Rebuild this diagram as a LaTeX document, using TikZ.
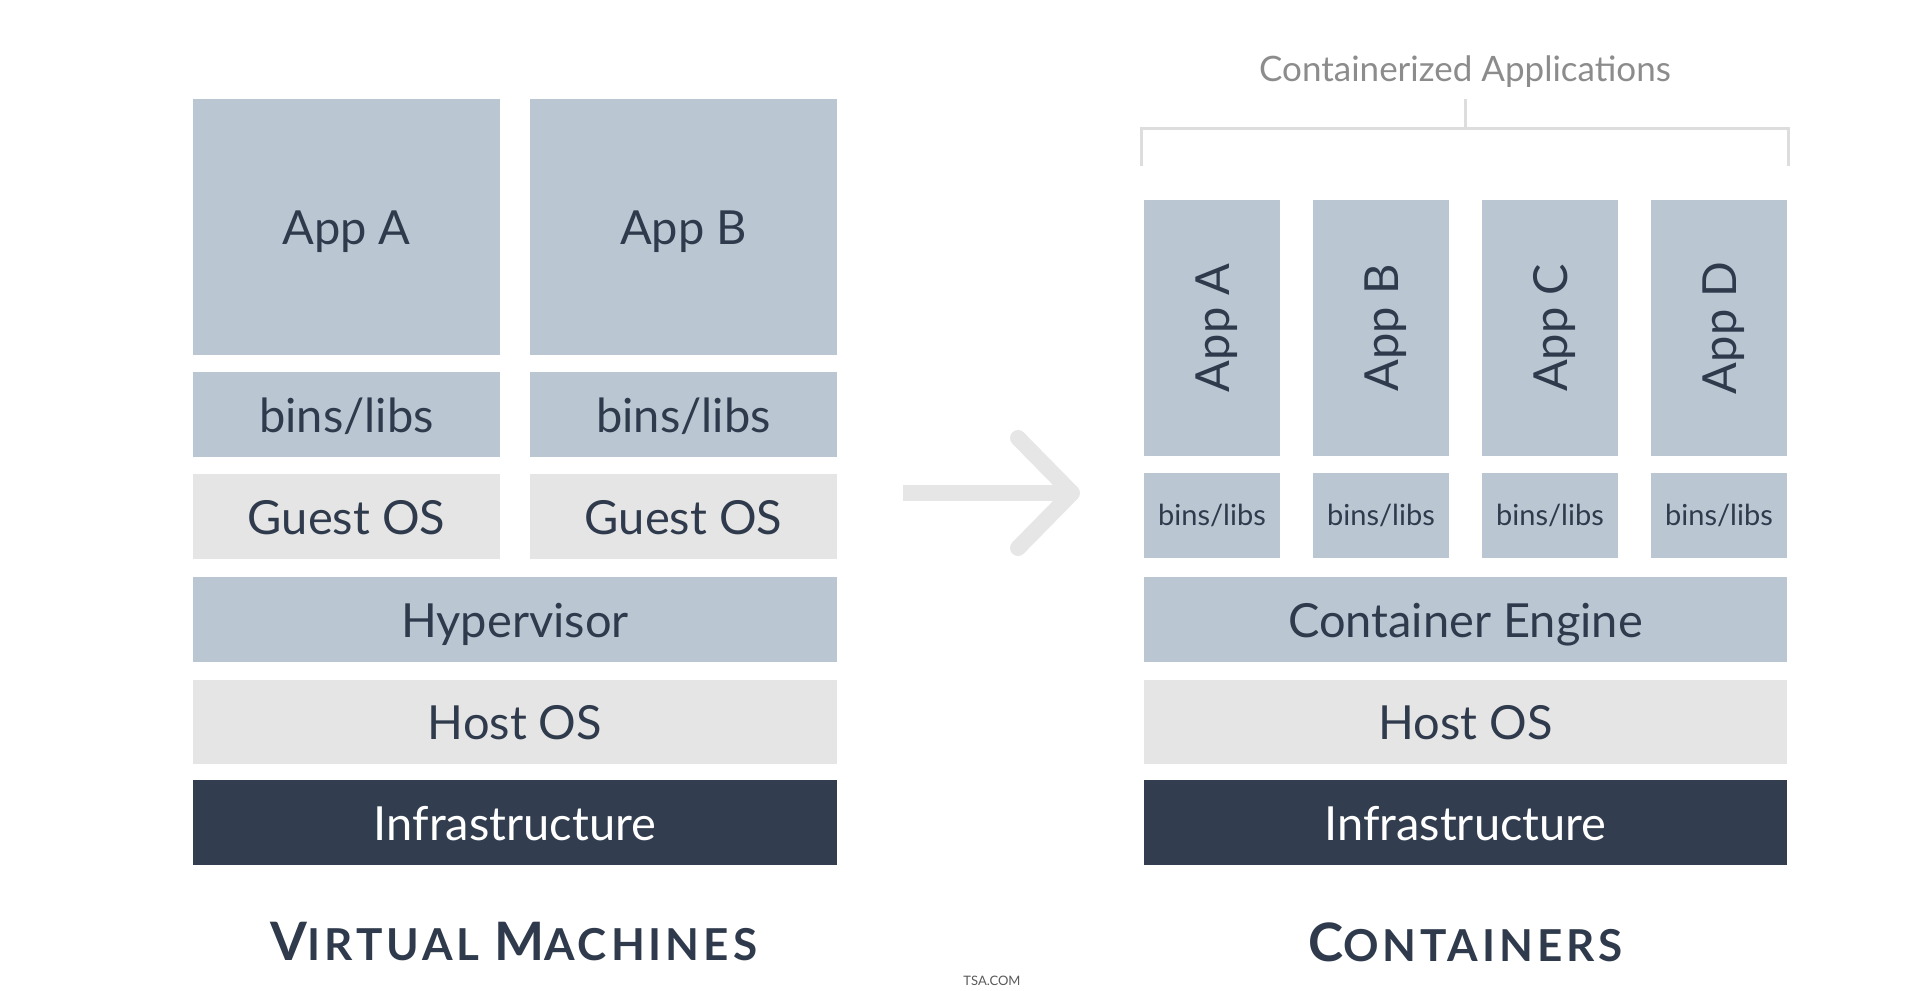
\documentclass[tikz,border=0pt]{standalone}
\usepackage{fontspec}
\setmainfont{Lato}
\usetikzlibrary{calc}
\definecolor{slate}{HTML}{BAC7D2}
\definecolor{pale}{HTML}{E5E5E5}
\definecolor{navy}{HTML}{323E4F}
\definecolor{ink}{HTML}{2F3B4C}
\definecolor{faint}{HTML}{E6E6E6}
\definecolor{bracketgray}{HTML}{DDDDDD}
\newcommand\titlecap[1]{{\fontsize{53}{60}\selectfont #1}}
\tikzset{
	layer/.style={rectangle, inner sep=0pt, text=ink, text height=40, text depth=5, font=\fontsize{47}{52}\selectfont},
	smalllayer/.style={layer, text height=24, text depth=4, font=\fontsize{29}{33}\selectfont},
	stacktitle/.style={text=ink, font=\fontsize{44}{50}\selectfont\bfseries\addfontfeatures{LetterSpace=9}},
	bracket/.style={draw=bracketgray, line width=3},
	bigarrow/.style={draw=faint, line width=16}
}

\begin{document}
\begin{tikzpicture}[x=1pt, y=-1pt]
			%%%%% START %%%%%
			\useasboundingbox (0, 0) rectangle (1918, 990);
			
			% virtual machines
			\node[layer, fill=slate, minimum width=307, minimum height=256] (vmappA) at (346.5, 227) {App A};
			\node[layer, fill=slate, minimum width=307, minimum height=256] (vmappB) at (683.5, 227) {App B};
			\node[layer, fill=slate, minimum width=307, minimum height=85] (vmbinsA) at (346.5, 414.5) {bins/libs};
			\node[layer, fill=slate, minimum width=307, minimum height=85] (vmbinsB) at (683.5, 414.5) {bins/libs};
			\node[layer, fill=pale, minimum width=307, minimum height=85] (guestA) at (346.5, 516.5) {Guest OS};
			\node[layer, fill=pale, minimum width=307, minimum height=85] (guestB) at (683.5, 516.5) {Guest OS};
			\node[layer, fill=slate, minimum width=644, minimum height=85] (hyper) at (515, 619.5) {Hypervisor};
			\node[layer, fill=pale, minimum width=644, minimum height=84] (vmhost) at (515, 722) {Host OS};
			\node[layer, fill=navy, text=white, minimum width=644, minimum height=85] (vminfra) at (515, 822.5) {Infrastructure};
			\node[stacktitle] (vmtitle) at (514, 942) {\titlecap{V}IRTUAL \titlecap{M}ACHINES};
			
			% arrow
			\coordinate (arrowtail) at (903, 493);
			\coordinate (arrowtip) at (1072, 493);
			\draw[bigarrow] (arrowtail) -- (arrowtip);
			\draw[bigarrow, line cap=round, line join=round] (1018, 438) -- (arrowtip) -- (1018, 548);
			
			% containers
			\foreach \n/\x in {A/1212, B/1381, C/1550, D/1719} {
				\node[layer, fill=slate, rotate=90, minimum width=256, minimum height=136] (capp\n) at (\x, 328) {App \n};
				\node[smalllayer, fill=slate, minimum width=136, minimum height=85] (cbins\n) at (\x, 515.5) {bins/libs};
			}
			\node[layer, fill=slate, minimum width=643, minimum height=85] (engine) at (1465.5, 619.5) {Container Engine};
			\node[layer, fill=pale, minimum width=643, minimum height=84] (chost) at (1465.5, 722) {Host OS};
			\node[layer, fill=navy, text=white, minimum width=643, minimum height=85] (cinfra) at (1465.5, 822.5) {Infrastructure};
			\node[stacktitle] (ctitle) at (1465.5, 942) {\titlecap{C}ONTAINERS};
			
			% bracket
			\node[text=black!45, font=\fontsize{35}{40}\selectfont] (apps) at (1465, 72) {Containerized Applications};
			\coordinate (brleft) at (1141, 166);
			\coordinate (brright) at (1788, 166);
			\coordinate (brmid) at (1465, 128);
			\draw[bracket] (brleft) |- (brright |- brmid) -- (brright);
			\draw[bracket] (brmid) -- (1465, 99);
			
			\node[text=black!65, font=\fontsize{13}{15}\selectfont, anchor=south] (mark) at (992, 989) {TSA.COM};
			%%%%% END %%%%%
\end{tikzpicture}
\end{document}
